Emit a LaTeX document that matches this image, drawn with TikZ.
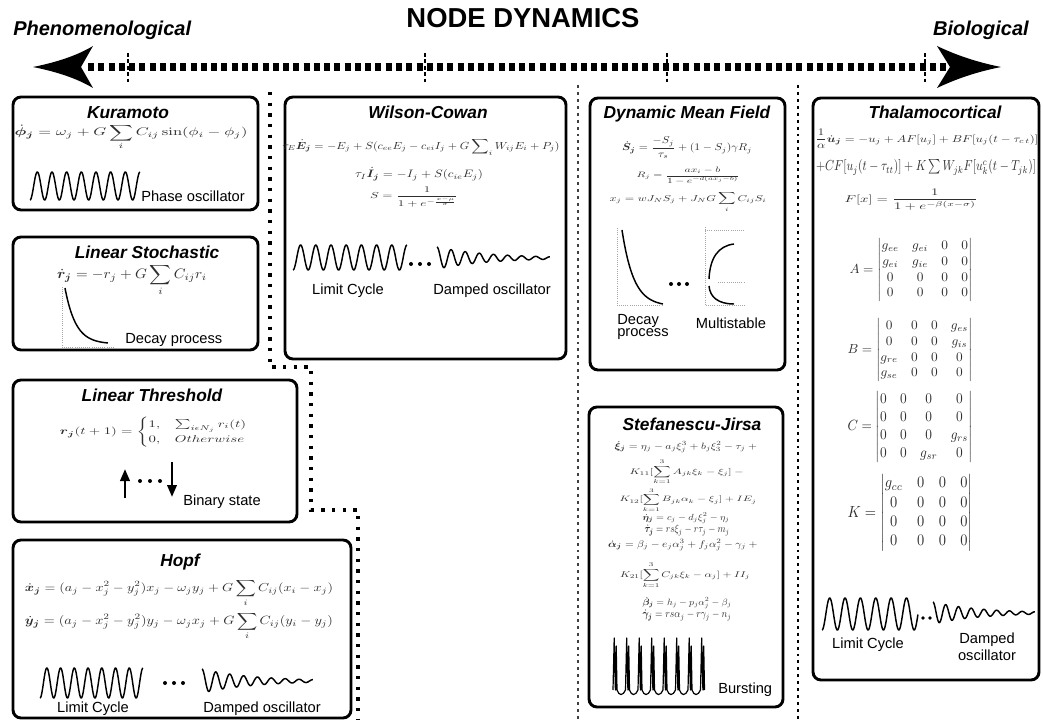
\documentclass[tikz,border=0pt]{standalone}
\usepackage{amsmath,amssymb,bm}
\usepackage[no-math]{fontspec}
\setmainfont{Liberation Sans}
\usepackage{graphicx}
\usetikzlibrary{arrows.meta}
\newlength\pxu \setlength\pxu{0.75pt}
\newcommand\eqh[3]{\resizebox*{#1\pxu}{#2\pxu}{$\displaystyle #3$}}
\newcommand\lcwave[5]{\draw[wave] plot[domain=0:1,samples=300,smooth] ({#1+#2*\x},{#3+#4*cos(360*#5*\x)});}
\newcommand\dampwave[5]{\draw[wave] plot[domain=0:1,samples=300,smooth] ({#1+#2*\x},{#3-#4*exp(-2.2*\x)*cos(360*#5*\x)});}
\begin{document}
\begin{tikzpicture}[x=0.75pt,y=-0.75pt,
  box/.style={draw, line width=2.2pt, rounded corners=6pt},
  ttl/.style={font=\bfseries\itshape\fontsize{13}{13}\selectfont, inner sep=0, anchor=base},
  lbl/.style={font=\fontsize{11}{12}\selectfont, inner sep=0, anchor=base},
  eq/.style={inner sep=0, text=black!82},
  wave/.style={line width=1.1pt, line join=round},
  sepline/.style={line width=2.2pt, dash pattern=on 2.2pt off 3pt},
  stepline/.style={line width=2.4pt, dash pattern=on 2.4pt off 5.6pt},
  axis/.style={gray!70, line width=0.6pt, densely dotted},
  tick/.style={line width=1.2pt, dash pattern=on 3pt off 1.8pt}
]
\useasboundingbox (0,0) rectangle (1043,720);

% ---------- header ----------
\node[font=\bfseries\fontsize{21}{21}\selectfont, inner sep=0] (title) at (523,18) {\resizebox{233\pxu}{!}{NODE DYNAMICS}};
\node[font=\bfseries\itshape\fontsize{15}{15}\selectfont, inner sep=0, anchor=base west] (phen) at (13,36) {Phenomenological};
\node[font=\bfseries\itshape\fontsize{15}{15}\selectfont, inner sep=0, anchor=base east] (bio) at (1029,36) {Biological};

\coordinate (aL) at (88,67);
\coordinate (aR) at (946,67);
\draw[line width=5.5pt, dash pattern=on 4.5pt off 3.2pt] (aL) -- (aR);
\fill (33,67) .. controls (58,62) and (78,55) .. (93,46) -- (81,67) -- (93,88) .. controls (78,79) and (58,72) .. (33,67) -- cycle;
\fill (1001,67) .. controls (976,62) and (956,55) .. (937,46) -- (950,67) -- (937,88) .. controls (956,79) and (976,72) .. (1001,67) -- cycle;
\foreach \tx in {128,425,667,925} { \draw[tick] (\tx,53) -- (\tx,82); }

% ---------- separators ----------
\coordinate (s1) at (270,92);
\coordinate (s2) at (270,367);
\coordinate (s3) at (311,367);
\coordinate (s4) at (311,510);
\coordinate (s5) at (358,510);
\coordinate (s6) at (358,720);
\draw[stepline] (s1) -- (s2) -- (s3) -- (s4) -- (s5) -- (s6);
\coordinate (m1) at (578,85);
\coordinate (m2) at (578,720);
\draw[sepline, black!75, line width=1.8pt] (m1) -- (m2);
\coordinate (r1) at (798,85);
\coordinate (r2) at (798,720);
\draw[sepline] (r1) -- (r2);

% ---------- Kuramoto ----------
\draw[box] (13,97) rectangle (258,210);
\node[ttl] (kt) at (128,119) {Kuramoto};
\node[eq] (ke) at (131,137) {\eqh{233}{26}{\dot{\bm\phi}_{\bm j} = \omega_j + G\sum_i C_{ij}\sin(\phi_i-\phi_j)}};
\lcwave{30}{110}{186}{14}{7.5}
\node[lbl, anchor=base west] (kl) at (141,202) {Phase oscillator};

% ---------- Linear Stochastic ----------
\draw[box] (13,237) rectangle (258,350);
\node[ttl] (lst) at (147,259) {Linear Stochastic};
\node[eq] (lse) at (132,280) {\eqh{150}{32}{\dot{\bm r}_{\bm j} = -r_j + G\sum_i C_{ij} r_i}};
\coordinate (lsa0) at (62,287);
\coordinate (lsa1) at (62,347);
\coordinate (lsa2) at (115,347);
\draw[axis] (lsa0) -- (lsa1) -- (lsa2);
\draw[wave] plot[domain=0:1,samples=120,smooth] ({65+43*\x},{288+55*(1-exp(-4*\x))/(1-exp(-4))});
\node[lbl, anchor=base west] (lsl) at (125,344) {Decay process};

% ---------- Linear Threshold ----------
\draw[box] (13,380) rectangle (297,522);
\node[ttl] (ltt) at (152,402) {Linear Threshold};
\node[eq] (lte) at (154,432) {\eqh{188}{30}{\bm{r_j}(t+1) = \begin{cases} 1, & \sum_{i\epsilon N_j} r_i(t)\\ 0, & Otherwise\end{cases}}};
\coordinate (up0) at (125,498);
\coordinate (up1) at (125,469);
\draw[line width=2pt, -{Triangle[length=9pt,width=7pt]}] (up0) -- (up1);
\coordinate (dn0) at (172,462);
\coordinate (dn1) at (172,497);
\draw[line width=2pt, -{Triangle[length=9pt,width=7pt]}] (dn0) -- (dn1);
\foreach \dx in {140,150,160} { \fill (\dx,481) circle (2); }
\node[lbl, anchor=base west] (ltl) at (183,505) {Binary state};

% ---------- Hopf ----------
\draw[box] (13,540) rectangle (351,718);
\node[ttl] (ht) at (180,566) {Hopf};
\node[eq] (he1) at (179,593) {\eqh{308}{27}{\dot{\bm x}_{\bm j} = (a_j - x_j^2 - y_j^2)x_j - \omega_j y_j + G\sum_i C_{ij}(x_i-x_j)}};
\node[eq] (he2) at (179,626) {\eqh{308}{28}{\dot{\bm y}_{\bm j} = (a_j - x_j^2 - y_j^2)y_j - \omega_j x_j + G\sum_i C_{ij}(y_i-y_j)}};
\lcwave{40}{103}{683}{15}{7.5}
\foreach \dx in {165,174,183} { \fill (\dx,683) circle (2); }
\dampwave{202}{111}{681}{12}{8}
\node[lbl] (hl1) at (93,712) {Limit Cycle};
\node[lbl] (hl2) at (262,712) {Damped oscillator};

% ---------- Wilson-Cowan ----------
\draw[box] (285,97) rectangle (566,359);
\node[ttl] (wt) at (428,119) {Wilson-Cowan};
\node[eq] (we1) at (421,147) {\eqh{277}{17}{\tau_E\dot{\bm E}_{\bm j} = -E_j + S(c_{ee}E_j - c_{ei}I_j + G\sum\nolimits_i W_{ij}E_i + P_j)}};
\node[eq] (we2) at (419,174) {\eqh{128}{13}{\tau_I\dot{\bm I}_{\bm j} = -I_j + S(c_{ie}E_j)}};
\node[eq] (we3) at (414,197) {\eqh{88}{20}{S = \frac{1}{1+e^{-\frac{x-\mu}{\sigma}}}}};
\lcwave{293}{114}{257.5}{12.5}{7.5}
\foreach \dx in {411,420,429} { \fill (\dx,264) circle (2); }
\dampwave{437}{113}{258}{11}{8}
\node[lbl] (wl1) at (348,295) {Limit Cycle};
\node[lbl] (wl2) at (492,295) {Damped oscillator};

% ---------- Dynamic Mean Field ----------
\draw[box] (590,98) rectangle (785,370);
\node[ttl] (dt) at (687,119) {Dynamic Mean Field};
\node[eq] (de1) at (687,148) {\eqh{130}{22}{\dot{\bm S}_{\bm j} = \frac{-S_j}{\tau_s} + (1-S_j)\gamma R_j}};
\node[eq] (de2) at (688,175.5) {\eqh{103}{17}{R_j = \frac{ax_i - b}{1-e^{-d(ax_j-b)}}}};
\node[eq] (de3) at (688,202) {\eqh{157}{20}{x_j = wJ_NS_j + J_NG\sum_i C_{ij}S_i}};
\coordinate (da0) at (617,228);
\coordinate (da1) at (617,305);
\coordinate (da2) at (663,305);
\draw[axis] (da0) -- (da1) -- (da2);
\draw[wave] plot[domain=0:1,samples=120,smooth] ({622+41*\x},{230+74*(1-exp(-3.5*\x))/(1-exp(-3.5))});
\foreach \dx in {671,679,687} { \fill (\dx,284) circle (2); }
\coordinate (ma0) at (705,227);
\coordinate (ma1) at (705,305);
\coordinate (ma2) at (745,305);
\coordinate (mt0) at (705,230);
\coordinate (mt1) at (745,230);
\coordinate (mm0) at (718,282);
\coordinate (mm1) at (745,282);
\draw[axis] (ma0) -- (ma1) -- (ma2);
\draw[axis] (mt0) -- (mt1);
\draw[axis] (mm0) -- (mm1);
\draw[wave] (709,279) .. controls (710,258) and (718,246) .. (734,244);
\draw[wave] (709,286) .. controls (710,297) and (718,304) .. (734,304);
\node[lbl, anchor=base west] (dl1) at (617,325) {Decay};
\node[lbl, anchor=base west] (dl2) at (617,337) {process};
\node[lbl] (dl3) at (731,329) {Multistable};

% ---------- Stefanescu-Jirsa ----------
\draw[box] (589,407) rectangle (783,707);
\node[ttl] (st) at (692,431) {Stefanescu-Jirsa};
\node[eq] (se1) at (687,447) {\eqh{145}{12}{\dot{\bm\xi}_{\bm j} = \eta_j - a_j\xi_j^3 + b_j\xi_3^2 - \tau_j +{}}};
\node[eq] (se2) at (688,472) {\eqh{117}{25}{K_{11}[\sum_{k=1}^{3} A_{jk}\xi_k - \xi_j] -{}}};
\node[eq] (se3) at (688,500) {\eqh{137}{24}{K_{12}[\sum_{k=1}^{3} B_{jk}\alpha_k - \xi_j] + IE_j}};
\node[eq] (se4) at (686,518.5) {\eqh{87}{11}{\dot{\bm\eta}_{\bm j} = c_j - d_j\xi_j^2 - \eta_j}};
\node[eq] (se5) at (687,530.5) {\eqh{85}{11}{\dot{\bm\tau}_{\bm j} = rs\xi_j - r\tau_j - m_j}};
\node[eq] (se6) at (684,545) {\eqh{152}{12}{\dot{\bm\alpha}_{\bm j} = \beta_j - e_j\alpha_j^3 + f_j\alpha_j^2 - \gamma_j +{}}};
\node[eq] (se7) at (685,575) {\eqh{130}{26}{K_{21}[\sum_{k=1}^{3} C_{jk}\xi_k - \alpha_j] + II_j}};
\node[eq] (se8) at (687,603) {\eqh{89}{12}{\dot{\bm\beta}_{\bm j} = h_j - p_j\alpha_j^2 - \beta_j}};
\node[eq] (se9) at (687,615.5) {\eqh{89}{11}{\dot{\bm\gamma}_{\bm j} = rs\alpha_j - r\gamma_j - n_j}};
\foreach \i in {0,...,7} {
  \pgfmathsetmacro\bx{613+12.5*\i}
  \draw[line width=0.9pt, line join=round] (\bx,690) -- (\bx+1.2,638) -- (\bx+2.4,690) -- (\bx+3.2,646) -- (\bx+4,690);
  \ifnum\i<7
    \draw[line width=0.9pt] (\bx+4,690) .. controls (\bx+6,696) and (\bx+10,696) .. (\bx+12.5,690);
  \fi
}
\node[lbl, anchor=base west] (sl) at (718,693) {Bursting};

% ---------- Thalamocortical ----------
\draw[box] (813,98) rectangle (1039,680);
\node[ttl] (tt) at (935,119) {Thalamocortical};
\node[eq] (te1) at (927,139) {\eqh{223}{20}{\frac{1}{\alpha}\dot{\bm u}_{\bm j} = -u_j + AF[u_j] + BF[u_j(t-\tau_{c\,t})]}};
\node[eq] (te2) at (926,167.5) {\eqh{220}{15}{\textstyle +CF[u_j(t-\tau_{tt})] + K\sum W_{jk}F[u^c_k(t-T_{jk})]}};
\node[eq] (te3) at (911,199.5) {\eqh{133}{21}{F[x] = \frac{1}{1+e^{-\beta(x-\sigma)}}}};
\node[eq] (tA) at (911,270) {\resizebox*{123\pxu}{63\pxu}{$A=\begin{vmatrix} g_{ee} & g_{ei} & 0 & 0\\ g_{ei} & g_{ie} & 0 & 0\\ 0 & 0 & 0 & 0\\ 0 & 0 & 0 & 0\end{vmatrix}$}};
\node[eq] (tB) at (910,350) {\resizebox*{125\pxu}{63\pxu}{$B=\begin{vmatrix} 0 & 0 & 0 & g_{es}\\ 0 & 0 & 0 & g_{is}\\ g_{re} & 0 & 0 & 0\\ g_{se} & 0 & 0 & 0\end{vmatrix}$}};
\node[eq] (tC) at (910,427) {\resizebox*{125\pxu}{71\pxu}{$C=\begin{vmatrix} 0 & 0 & 0 & 0\\ 0 & 0 & 0 & 0\\ 0 & 0 & 0 & g_{rs}\\ 0 & 0 & g_{sr} & 0\end{vmatrix}$}};
\node[eq] (tK) at (910,513) {\resizebox*{125\pxu}{77\pxu}{$K=\begin{vmatrix} g_{cc} & 0 & 0 & 0\\ 0 & 0 & 0 & 0\\ 0 & 0 & 0 & 0\\ 0 & 0 & 0 & 0\end{vmatrix}$}};
\lcwave{822}{96}{614}{16}{6.25}
\foreach \dx in {923,930} { \fill (\dx,618) circle (1.8); }
\dampwave{933}{102}{613}{11}{8}
\node[lbl] (tl1) at (868,648) {Limit Cycle};
\node[lbl] (tl2) at (987,643) {Damped};
\node[lbl] (tl3) at (987,660) {oscillator};
\end{tikzpicture}
\end{document}
